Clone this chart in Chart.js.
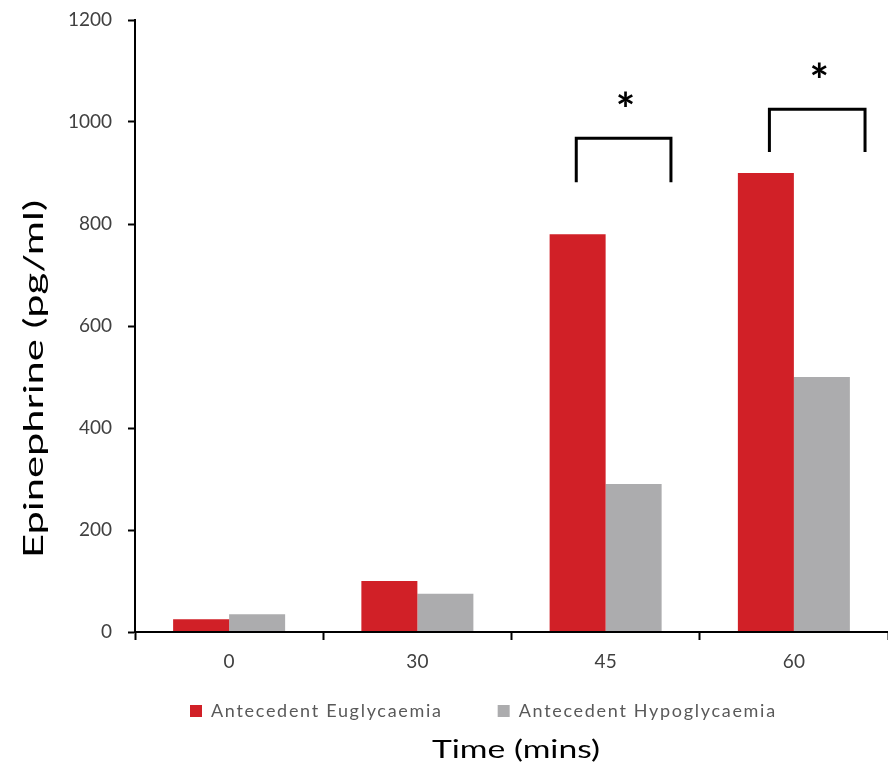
<!DOCTYPE html>
<html>
<head>
<meta charset="utf-8">
<script src="https://cdn.jsdelivr.net/npm/chart.js@4/dist/chart.umd.min.js"></script>
<style>
  html, body { margin: 0; padding: 0; background: #ffffff; }
  #wrap { width: 888px; height: 773px; }
</style>
</head>
<body>
<div id="wrap"><canvas id="barchart" width="888" height="773"></canvas></div>
<script>
// Data
const timeLabels = ['0', '30', '45', '60'];
const euglycaemia = [25, 100, 780, 900];
const hypoglycaemia = [35, 75, 290, 500];
const yTicks = [0, 200, 400, 600, 800, 1000, 1200];

// Significance brackets (category index, bracket top, leg foot, in pg/ml)
const sigCategories = [2, 3];
const bracketTops = [968, 1025];
const bracketFeet = [882, 941];

// Styles
const red = '#d12027';
const grey = '#acacae';
const fontFamily = 'Lato, "Open Sans", sans-serif';
const axisLeft = 135;
const legLeft = [-0.156, -0.13];
const legRight = [0.347, 0.378];
const legendLift = 33;

const ctx = document.getElementById('barchart');

// draw text stretched along its own length to a given width
const stretchedText = function (c, text, width) {
    const w = c.measureText(text).width;
    c.scale(width / w, 1);
    c.fillText(text, 0, 0);
};

const legendTweaks = {
    id: 'legendTweaks',
    afterLayout(chart) {
        // pull the legend row up closer to the tick labels
        chart.legend.top -= legendLift;
    },
    beforeDraw(chart) {
        // only the legend is drawn before the datasets (scales have z = 1)
        chart.ctx.letterSpacing = '1.7px';
    },
    beforeDatasetsDraw(chart) {
        chart.ctx.letterSpacing = '0px';
    }
};

const significance = {
    id: 'significance',
    afterDraw(chart) {
        const {ctx} = chart;
        const x = chart.scales.x;
        const y = chart.scales.y;
        const catWidth = x.getPixelForValue(1) - x.getPixelForValue(0);
        ctx.save();
        ctx.strokeStyle = '#000';
        ctx.lineWidth = 3;
        sigCategories.forEach(function (cat, i) {
            const cx = x.getPixelForValue(cat);
            const x1 = cx + legLeft[i] * catWidth;
            const x2 = cx + legRight[i] * catWidth;
            const yTop = y.getPixelForValue(bracketTops[i]);
            const yFoot = y.getPixelForValue(bracketFeet[i]);
            ctx.beginPath();
            ctx.moveTo(x1, yFoot);
            ctx.lineTo(x1, yTop);
            ctx.lineTo(x2, yTop);
            ctx.lineTo(x2, yFoot);
            ctx.stroke();
            ctx.fillStyle = '#000';
            ctx.font = 'bold 46px ' + fontFamily;
            ctx.textAlign = 'center';
            ctx.textBaseline = 'alphabetic';
            ctx.fillText('*', (x1 + x2) / 2 + 2, yTop - 12);
        });
        ctx.restore();

        // axis titles
        ctx.save();
        ctx.fillStyle = '#000';
        ctx.textAlign = 'center';
        ctx.textBaseline = 'middle';
        ctx.font = '26px ' + fontFamily;
        ctx.translate(35, 379);
        ctx.rotate(-Math.PI / 2);
        stretchedText(ctx, 'Epinephrine (pg/ml)', 358);
        ctx.restore();

        ctx.save();
        ctx.fillStyle = '#000';
        ctx.textAlign = 'center';
        ctx.textBaseline = 'alphabetic';
        ctx.font = '25px ' + fontFamily;
        ctx.translate(516, 758);
        stretchedText(ctx, 'Time (mins)', 168);
        ctx.restore();
    }
};

const data = {
    labels: timeLabels,
    datasets: [
        {
            label: 'Antecedent Euglycaemia',
            data: euglycaemia,
            backgroundColor: red,
            borderWidth: 0,
        },
        {
            label: 'Antecedent Hypoglycaemia',
            data: hypoglycaemia,
            backgroundColor: grey,
            borderWidth: 0,
        },
    ],
};

const config = {
    type: 'bar',
    data: data,
    plugins: [legendTweaks, significance],
    options: {
        responsive: false,
        animation: false,
        datasets: {
            bar: {
                barPercentage: 1.0,
                categoryPercentage: 0.595,
            }
        },
        layout: {
            padding: {top: 20, right: 0, bottom: 45, left: 0}
        },
        plugins: {
            legend: {
                position: 'bottom',
                align: 'start',
                fullSize: false,
                maxHeight: 48,
                labels: {
                    boxWidth: 12,
                    boxHeight: 12,
                    padding: 55,
                    color: '#595959',
                    font: {family: fontFamily, size: 18},
                },
            },
            title: {display: false},
            tooltip: {enabled: false},
        },
        scales: {
            x: {
                grid: {
                    display: true,
                    drawOnChartArea: false,
                    offset: true,
                    tickLength: 8,
                    tickColor: '#000',
                    tickWidth: 2,
                    z: 1,
                },
                border: {color: '#000', width: 2, z: 1},
                ticks: {
                    color: '#404040',
                    font: {family: fontFamily, size: 19},
                    padding: 10,
                    z: 1,
                },
                afterFit: function (scale) {
                    scale.height = 48;
                    scale.paddingLeft = 0;
                    scale.paddingRight = 0;
                },
            },
            y: {
                min: 0,
                max: 1200,
                afterBuildTicks: function (scale) {
                    scale.ticks = yTicks.map(function (v) { return {value: v}; });
                },
                grid: {
                    display: true,
                    drawOnChartArea: false,
                    tickLength: 7,
                    tickColor: '#000',
                    tickWidth: 2,
                    z: 1,
                },
                border: {color: '#000', width: 2, z: 1},
                ticks: {
                    color: '#404040',
                    font: {family: fontFamily, size: 19},
                    padding: 16,
                    z: 1,
                    callback: function (value) {
                        return String(value);
                    },
                },
                afterFit: function (scale) {
                    scale.width = axisLeft;
                    scale.paddingTop = 0;
                    scale.paddingBottom = 0;
                },
            },
        },
    },
};

const barChart = new Chart(ctx, config);
</script>
</body>
</html>
